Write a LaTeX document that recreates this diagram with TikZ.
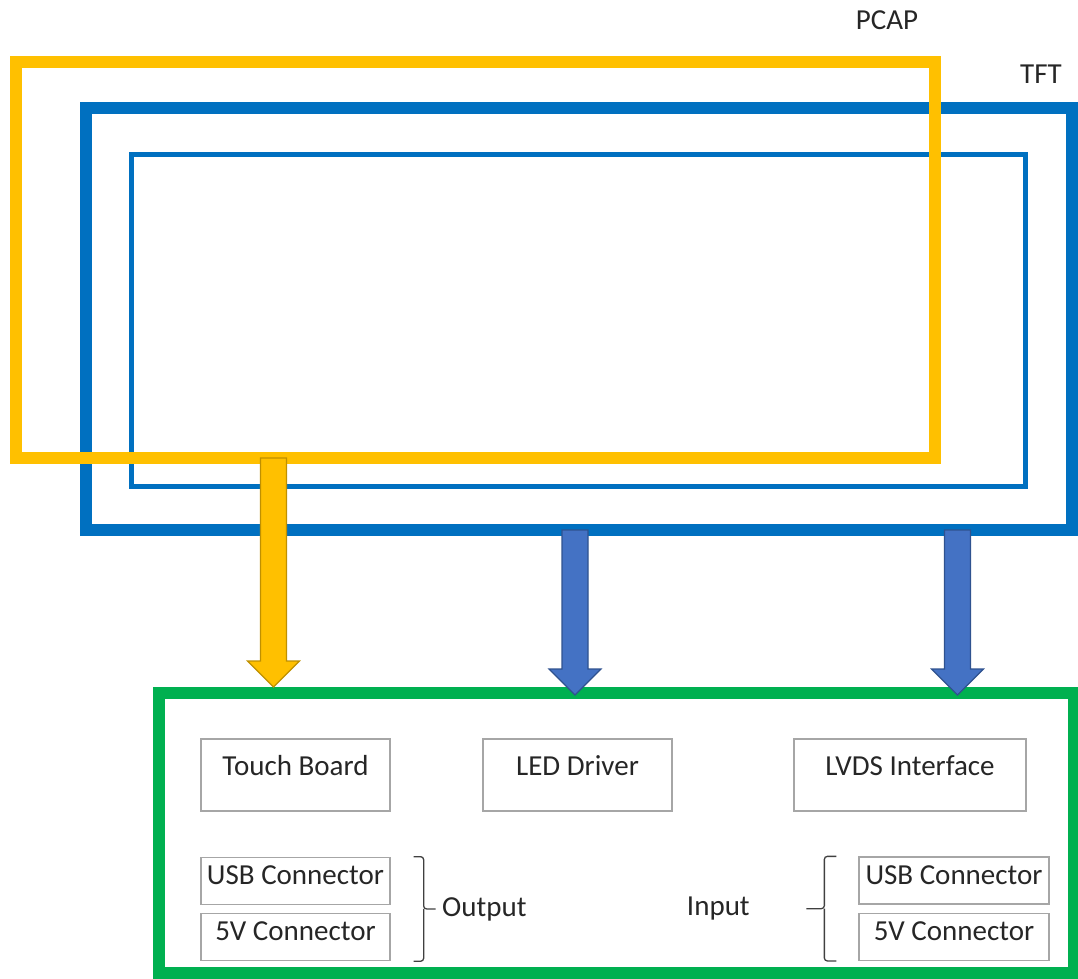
\documentclass[tikz,border=0pt]{standalone}
\usepackage{fontspec}
\setmainfont{Carlito}
\usepackage{tikz}
\usetikzlibrary{positioning}
\usetikzlibrary{calc}
\usepackage{xcolor}

\definecolor{pcapyellow}{HTML}{FFC000}
\definecolor{yellowedge}{HTML}{BF9000}
\definecolor{tftblue}{HTML}{0070C0}
\definecolor{arrowblue}{HTML}{4472C4}
\definecolor{arrowedge}{HTML}{2F528F}
\definecolor{boardgreen}{HTML}{00B050}
\definecolor{partgray}{HTML}{A6A6A6}

% block arrow: style, start, tip
\newcommand{\blockarrow}[3]{%
    \draw[#1] ($(#2)+(-13,0)$) -- ($(#3)+(-13,-26)$) -- ($(#3)+(-26,-26)$) -- (#3)
        -- ($(#3)+(26,-26)$) -- ($(#3)+(13,-26)$) -- ($(#2)+(13,0)$) -- cycle;}

\begin{document}
\begin{tikzpicture}[x=1pt, y=-1pt,
    txt/.style={text=black!85, font=\fontsize{29}{34}\selectfont},
    frame/.style={draw, line width=12pt, inner sep=0pt, outer sep=0pt},
    partbox/.style={txt, draw=partgray, line width=1.3pt, minimum width=189pt,
        minimum height=72pt, text height=21pt, text depth=21pt, inner sep=0pt},
    conbox/.style={txt, draw=partgray, line width=1.3pt, minimum width=189pt,
        minimum height=47pt, text height=22pt, text depth=15pt, inner sep=0pt},
    yellowarrow/.style={fill=pcapyellow, draw=yellowedge, line width=1.2pt},
    bluearrow/.style={fill=arrowblue, draw=arrowedge, line width=1.2pt},
    bracket/.style={draw=black!75, line width=1.3pt, rounded corners=3pt}]
    \useasboundingbox (0,0) rectangle (1078,979);

    % display layers
    \node[frame, draw=tftblue, minimum width=986pt, minimum height=422pt] (tft) at (579,319) {};
    \node[frame, draw=tftblue, line width=5pt, minimum width=894pt, minimum height=332pt] (tftinner) at (578,320) {};
    \node[frame, draw=pcapyellow, minimum width=918.5pt, minimum height=396pt] (pcap) at (475.25,260) {};
    \node[txt] (pcaplbl) at (887,20) {PCAP};
    \node[txt] (tftlbl) at (1041,74) {TFT};

    % controller board
    \node[draw=boardgreen, line width=12pt, inner sep=0pt, minimum width=915pt, minimum height=280pt] (board) at (616.5,833) {};
    \node[partbox] (touch) at (295.5,775) {Touch Board};
    \node[partbox] (led) at (577.5,775) {LED Driver};
    \node[partbox, minimum width=232pt] (lvds) at (910,775) {LVDS Interface};
    \node[conbox, below=45pt of touch] (usbout) {USB Connector};
    \node[conbox, below=8pt of usbout] (vout) {5V Connector};
    \node[conbox, minimum width=190pt] (usbin) at (954,880.5) {USB Connector};
    \node[conbox, minimum width=190pt, below=8pt of usbin] (vin) {5V Connector};

    % arrows
    \coordinate (touchtop) at ([xshift=-201.75pt]pcap.south);
    \coordinate (ledtop) at ([xshift=-4pt]tft.south);
    \coordinate (lvdstop) at ([xshift=378.5pt]tft.south);
    \coordinate (touchtip) at (touchtop |- board.north);
    \coordinate (ledtip) at ([yshift=-8pt]ledtop |- board.north);
    \coordinate (lvdstip) at ([yshift=-8pt]lvdstop |- board.north);
    \blockarrow{yellowarrow}{touchtop}{touchtip}
    \blockarrow{bluearrow}{ledtop}{ledtip}
    \blockarrow{bluearrow}{lvdstop}{lvdstip}

    % braces
    \coordinate (outmid) at ($(usbout.north east)!0.5!(vout.south east)$);
    \draw[bracket] ([xshift=23pt]usbout.north east) -| ([xshift=33pt]outmid) -- ([xshift=45pt]outmid);
    \draw[bracket] ([xshift=23pt]vout.south east) -| ([xshift=33pt]outmid);
    \node[txt, anchor=west] (output) at ([xshift=48pt]outmid) {Output};
    \coordinate (inmid) at ($(usbin.north west)!0.5!(vin.south west)$);
    \draw[bracket] ([xshift=-22pt]usbin.north west) -| ([xshift=-34pt]inmid) -- ([xshift=-52pt]inmid);
    \draw[bracket] ([xshift=-22pt]vin.south west) -| ([xshift=-34pt]inmid);
    \node[txt] (input) at ([xshift=-140pt]inmid) {Input};
\end{tikzpicture}
\end{document}
